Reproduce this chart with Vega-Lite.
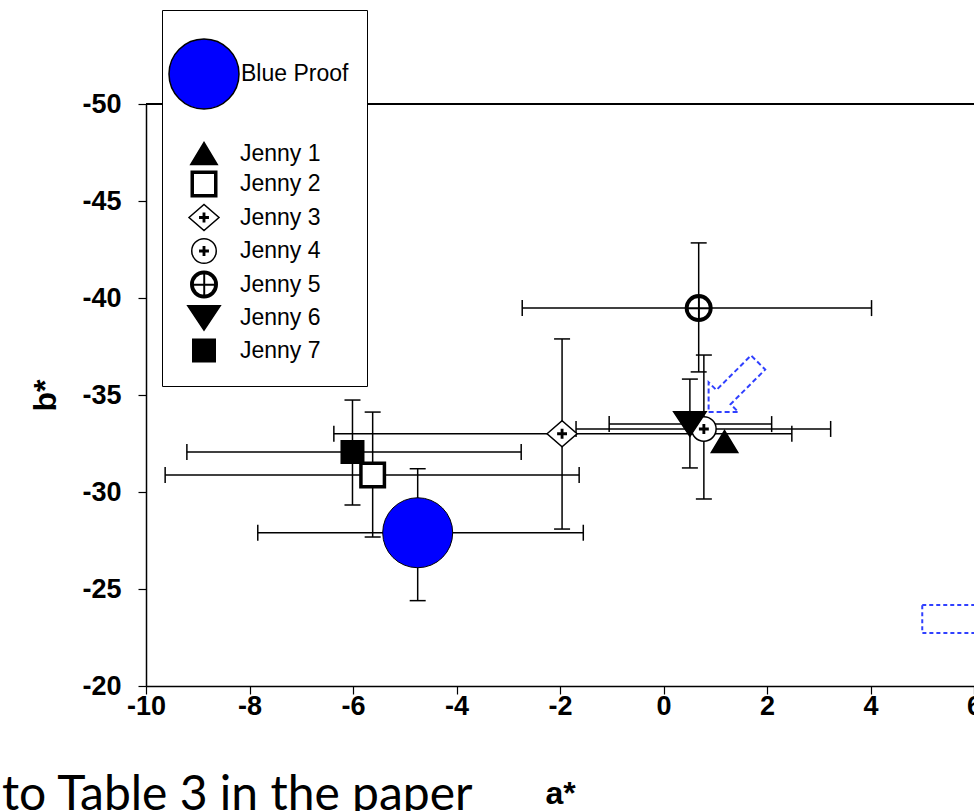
{
  "$schema": "https://vega.github.io/schema/vega-lite/v6.json",
  "width": 828,
  "height": 582,
  "autosize": {"type": "none"},
  "padding": {"left": 146, "top": 104, "right": 0, "bottom": 125},
  "background": "white",
  "config": {
    "view": {"stroke": null},
    "font": "Liberation Sans",
    "locale": {"number": {"decimal": ".", "thousands": ",", "grouping": [3], "currency": ["$", ""], "minus": "-"}},
    "axisX": {
      "grid": false, "domainColor": "black", "domainWidth": 1.5,
      "tickColor": "black", "tickSize": 8, "tickWidth": 1.2,
      "labelFont": "Liberation Sans", "labelFontWeight": "bold", "labelFontSize": 27, "labelColor": "black",
      "labelPadding": -1, "labelFlush": false, "labelOverlap": false,
      "titleFont": "Liberation Sans", "titleFontWeight": "bold", "titleFontSize": 32, "titleColor": "black",
      "titlePadding": 59
    },
    "axisY": {
      "grid": false, "domainColor": "black", "domainWidth": 1.5,
      "tickColor": "black", "tickSize": 8, "tickWidth": 1.2,
      "labelFont": "Liberation Sans", "labelFontWeight": "bold", "labelFontSize": 27, "labelColor": "black",
      "labelPadding": 17, "labelOverlap": false,
      "titleFont": "Liberation Sans", "titleFontWeight": "bold", "titleFontSize": 32, "titleColor": "black",
      "titlePadding": 19
    }
  },
  "title": {
    "text": "to Table 3 in the paper",
    "orient": "bottom",
    "anchor": "start",
    "frame": "group",
    "font": "Lato",
    "fontSize": 48,
    "fontWeight": "normal",
    "color": "black",
    "dx": -144,
    "offset": -37
  },
  "datasets": {
    "pts": [
      {"series": "Blue Proof", "a": -4.75, "b": -27.9, "alo": -7.84, "ahi": -1.55, "blo": -31.2, "bhi": -24.4},
      {"series": "Jenny 1", "a": 1.18, "b": -32.6, "alo": null, "ahi": null, "blo": null, "bhi": null},
      {"series": "Jenny 2", "a": -5.62, "b": -30.88, "alo": -9.63, "ahi": -1.63, "blo": -34.12, "bhi": -27.68},
      {"series": "Jenny 3", "a": -1.96, "b": -33.0, "alo": -6.37, "ahi": 2.48, "blo": -37.89, "bhi": -28.09},
      {"series": "Jenny 4", "a": 0.78, "b": -33.25, "alo": -1.69, "ahi": 3.23, "blo": -37.06, "bhi": -29.64},
      {"series": "Jenny 5", "a": 0.68, "b": -39.48, "alo": -2.73, "ahi": 4.02, "blo": -42.84, "bhi": -36.19},
      {"series": "Jenny 6", "a": 0.51, "b": -33.5, "alo": -1.05, "ahi": 2.09, "blo": -35.82, "bhi": -31.24},
      {"series": "Jenny 7", "a": -6.01, "b": -32.06, "alo": -9.21, "ahi": -2.75, "blo": -34.74, "bhi": -29.33}
    ],
    "arrow": [{"a": 1.35, "b": -35.4}],
    "box": [{"a": 5.0, "a2": 7.0, "b": -24.18, "b2": -22.73}]
  },
  "data": {"name": "pts"},
  "resolve": {
    "scale": {"fill": "independent", "shape": "independent"},
    "legend": {"fill": "independent", "shape": "independent"}
  },
  "layer": [
    {
      "mark": {"type": "rule", "color": "black", "strokeWidth": 1.2},
      "encoding": {
        "y": {"datum": -50, "type": "quantitative", "title": "b*", "scale": {"domain": [-50, -20], "reverse": true, "nice": false, "zero": false}, "axis": {"values": [-50, -45, -40, -35, -30, -25, -20]}}
      }
    },
    {
      "mark": {"type": "rule", "color": "black", "strokeWidth": 1.5},
      "encoding": {
        "x": {"field": "alo", "type": "quantitative", "title": "a*", "scale": {"domain": [-10, 6], "nice": false, "zero": false}, "axis": {"values": [-10, -8, -6, -4, -2, 0, 2, 4, 6]}},
        "x2": {"field": "ahi"},
        "y": {"field": "b", "type": "quantitative", "title": "b*", "scale": {"domain": [-50, -20], "reverse": true, "nice": false, "zero": false}, "axis": {"values": [-50, -45, -40, -35, -30, -25, -20]}}
      }
    },
    {
      "mark": {"type": "rule", "color": "black", "strokeWidth": 1.5},
      "encoding": {
        "x": {"field": "a", "type": "quantitative", "title": "a*", "scale": {"domain": [-10, 6], "nice": false, "zero": false}, "axis": {"values": [-10, -8, -6, -4, -2, 0, 2, 4, 6]}},
        "y": {"field": "blo", "type": "quantitative", "title": "b*", "scale": {"domain": [-50, -20], "reverse": true, "nice": false, "zero": false}, "axis": {"values": [-50, -45, -40, -35, -30, -25, -20]}},
        "y2": {"field": "bhi"}
      }
    },
    {
      "mark": {"type": "tick", "orient": "vertical", "size": 16, "thickness": 1.5, "color": "black", "opacity": 1},
      "encoding": {
        "x": {"field": "alo", "type": "quantitative", "title": "a*", "scale": {"domain": [-10, 6], "nice": false, "zero": false}, "axis": {"values": [-10, -8, -6, -4, -2, 0, 2, 4, 6]}},
        "y": {"field": "b", "type": "quantitative", "title": "b*", "scale": {"domain": [-50, -20], "reverse": true, "nice": false, "zero": false}, "axis": {"values": [-50, -45, -40, -35, -30, -25, -20]}}
      }
    },
    {
      "mark": {"type": "tick", "orient": "vertical", "size": 16, "thickness": 1.5, "color": "black", "opacity": 1},
      "encoding": {
        "x": {"field": "ahi", "type": "quantitative", "title": "a*", "scale": {"domain": [-10, 6], "nice": false, "zero": false}, "axis": {"values": [-10, -8, -6, -4, -2, 0, 2, 4, 6]}},
        "y": {"field": "b", "type": "quantitative", "title": "b*", "scale": {"domain": [-50, -20], "reverse": true, "nice": false, "zero": false}, "axis": {"values": [-50, -45, -40, -35, -30, -25, -20]}}
      }
    },
    {
      "mark": {"type": "tick", "orient": "horizontal", "size": 16, "thickness": 1.5, "color": "black", "opacity": 1},
      "encoding": {
        "x": {"field": "a", "type": "quantitative", "title": "a*", "scale": {"domain": [-10, 6], "nice": false, "zero": false}, "axis": {"values": [-10, -8, -6, -4, -2, 0, 2, 4, 6]}},
        "y": {"field": "blo", "type": "quantitative", "title": "b*", "scale": {"domain": [-50, -20], "reverse": true, "nice": false, "zero": false}, "axis": {"values": [-50, -45, -40, -35, -30, -25, -20]}}
      }
    },
    {
      "mark": {"type": "tick", "orient": "horizontal", "size": 16, "thickness": 1.5, "color": "black", "opacity": 1},
      "encoding": {
        "x": {"field": "a", "type": "quantitative", "title": "a*", "scale": {"domain": [-10, 6], "nice": false, "zero": false}, "axis": {"values": [-10, -8, -6, -4, -2, 0, 2, 4, 6]}},
        "y": {"field": "bhi", "type": "quantitative", "title": "b*", "scale": {"domain": [-50, -20], "reverse": true, "nice": false, "zero": false}, "axis": {"values": [-50, -45, -40, -35, -30, -25, -20]}}
      }
    },
    {
      "transform": [{"filter": "datum.series === 'Blue Proof'"}],
      "mark": {"type": "point", "shape": "circle", "filled": true, "opacity": 1, "size": 4900, "stroke": "black", "strokeWidth": 1},
      "encoding": {
        "x": {"field": "a", "type": "quantitative", "title": "a*", "scale": {"domain": [-10, 6], "nice": false, "zero": false}, "axis": {"values": [-10, -8, -6, -4, -2, 0, 2, 4, 6]}},
        "y": {"field": "b", "type": "quantitative", "title": "b*", "scale": {"domain": [-50, -20], "reverse": true, "nice": false, "zero": false}, "axis": {"values": [-50, -45, -40, -35, -30, -25, -20]}},
        "fill": {
          "field": "series", "type": "nominal",
          "scale": {"domain": ["Blue Proof"], "range": ["#0000ff"]},
          "legend": {
            "orient": "none", "legendX": 22, "legendY": -66, "title": null, "columns": 1,
            "padding": 0, "strokeColor": null, "fillColor": null,
            "symbolSize": 4900, "symbolOffset": 0, "labelOffset": 1,
            "labelFont": "Liberation Sans", "labelFontSize": 23, "labelColor": "black", "labelLimit": 300,
            "zindex": 2,
            "encode": {
              "symbols": {"stroke": {"value": "black"}, "strokeWidth": {"value": 1}, "opacity": {"value": 1}}
            }
          }
        }
      }
    },
    {
      "transform": [{"filter": "datum.series !== 'Blue Proof'"}],
      "mark": {"type": "point", "filled": true, "opacity": 1, "size": 900, "stroke": "black", "strokeWidth": 1.5},
      "encoding": {
        "x": {"field": "a", "type": "quantitative", "title": "a*", "scale": {"domain": [-10, 6], "nice": false, "zero": false}, "axis": {"values": [-10, -8, -6, -4, -2, 0, 2, 4, 6]}},
        "y": {"field": "b", "type": "quantitative", "title": "b*", "scale": {"domain": [-50, -20], "reverse": true, "nice": false, "zero": false}, "axis": {"values": [-50, -45, -40, -35, -30, -25, -20]}},
        "shape": {
          "field": "series", "type": "nominal",
          "scale": {
            "domain": ["Jenny 1", "Jenny 2", "Jenny 3", "Jenny 4", "Jenny 5", "Jenny 6", "Jenny 7"],
            "range": [
              "M0,-0.733L0.883,0.733L-0.883,0.733ZM10.27,0L10.27,0",
              "M-0.85,-0.85H0.85V0.85H-0.85ZM-0.78,-0.78H0.78V0.78H-0.78ZM-0.717,-0.717H0.717V0.717H-0.717Z",
              "M-1,0L0,-0.867L1,0L0,0.867ZM-0.28,-0.045H-0.045V-0.28H0.045V-0.045H0.28V0.045H0.045V0.28H-0.045V0.045H-0.28Z",
              "M-0.817,0A0.817,0.817,0,1,0,0.817,0A0.817,0.817,0,1,0,-0.817,0ZM-0.28,-0.045H-0.045V-0.28H0.045V-0.045H0.28V0.045H0.045V0.28H-0.045V0.045H-0.28Z",
              "M-0.883,0A0.883,0.883,0,1,0,0.883,0A0.883,0.883,0,1,0,-0.883,0ZM-0.83,0A0.83,0.83,0,1,0,0.83,0A0.83,0.83,0,1,0,-0.83,0ZM-0.78,0A0.78,0.78,0,1,0,0.78,0A0.78,0.78,0,1,0,-0.78,0ZM-0.73,0A0.73,0.73,0,1,0,0.73,0A0.73,0.73,0,1,0,-0.73,0ZM-0.883,0H0.883M0,-0.883V0.883M-0.883,0.03H0.883M0.03,-0.883V0.883",
              "M-1.083,-0.817L1.083,-0.817L0,0.817Z",
              "M-0.75,-0.75H0.75V0.75H-0.75ZM0,1.77L0,1.77"
            ]
          },
          "legend": {
            "orient": "none", "legendX": 16, "legendY": -94, "title": " ", "titleFontSize": 10, "titlePadding": 112.5, "columns": 1,
            "padding": 5, "strokeColor": "black", "fillColor": "white", "cornerRadius": 0,
            "symbolSize": 900, "symbolOffset": 21, "labelOffset": 20,
            "labelFont": "Liberation Sans", "labelFontSize": 23, "labelColor": "black", "labelLimit": 300,
            "rowPadding": 0.5, "zindex": 1,
            "encode": {
              "legend": {"strokeWidth": {"value": 1.5}},
              "symbols": {"stroke": {"value": "black"}, "strokeWidth": {"value": 1.5}, "opacity": {"value": 1}}
            }
          }
        },
        "fill": {
          "field": "series", "type": "nominal",
          "scale": {
            "domain": ["Jenny 1", "Jenny 2", "Jenny 3", "Jenny 4", "Jenny 5", "Jenny 6", "Jenny 7"],
            "range": ["#000000", "#ffffff", "#ffffff", "#ffffff", "#ffffff", "#000000", "#000000"]
          },
          "legend": {
            "orient": "none", "legendX": 16, "legendY": -94, "title": " ", "titleFontSize": 10, "titlePadding": 112.5, "columns": 1,
            "padding": 5, "strokeColor": "black", "fillColor": "white", "cornerRadius": 0,
            "symbolSize": 900, "symbolOffset": 21, "labelOffset": 20,
            "labelFont": "Liberation Sans", "labelFontSize": 23, "labelColor": "black", "labelLimit": 300,
            "rowPadding": 0.5, "zindex": 1,
            "encode": {
              "legend": {"strokeWidth": {"value": 1.5}},
              "symbols": {"stroke": {"value": "black"}, "strokeWidth": {"value": 1.5}, "opacity": {"value": 1}}
            }
          }
        }
      }
    },
    {
      "data": {"name": "arrow"},
      "mark": {
        "type": "point",
        "shape": "M1,0L0.4,-0.6L0.4,-0.286L-1,-0.286L-1,0.286L0.4,0.286L0.4,0.6Z",
        "size": 4900, "angle": 135, "filled": false, "opacity": 1,
        "stroke": "#3040ff", "strokeWidth": 2, "strokeDash": [5, 3]
      },
      "encoding": {
        "x": {"field": "a", "type": "quantitative", "title": "a*", "scale": {"domain": [-10, 6], "nice": false, "zero": false}, "axis": {"values": [-10, -8, -6, -4, -2, 0, 2, 4, 6]}},
        "y": {"field": "b", "type": "quantitative", "title": "b*", "scale": {"domain": [-50, -20], "reverse": true, "nice": false, "zero": false}, "axis": {"values": [-50, -45, -40, -35, -30, -25, -20]}}
      }
    },
    {
      "data": {"name": "box"},
      "mark": {"type": "rect", "filled": false, "stroke": "#3040ff", "strokeWidth": 2, "strokeDash": [4, 3]},
      "encoding": {
        "x": {"field": "a", "type": "quantitative", "title": "a*", "scale": {"domain": [-10, 6], "nice": false, "zero": false}, "axis": {"values": [-10, -8, -6, -4, -2, 0, 2, 4, 6]}},
        "x2": {"field": "a2"},
        "y": {"field": "b", "type": "quantitative", "title": "b*", "scale": {"domain": [-50, -20], "reverse": true, "nice": false, "zero": false}, "axis": {"values": [-50, -45, -40, -35, -30, -25, -20]}},
        "y2": {"field": "b2"}
      }
    }
  ]
}
